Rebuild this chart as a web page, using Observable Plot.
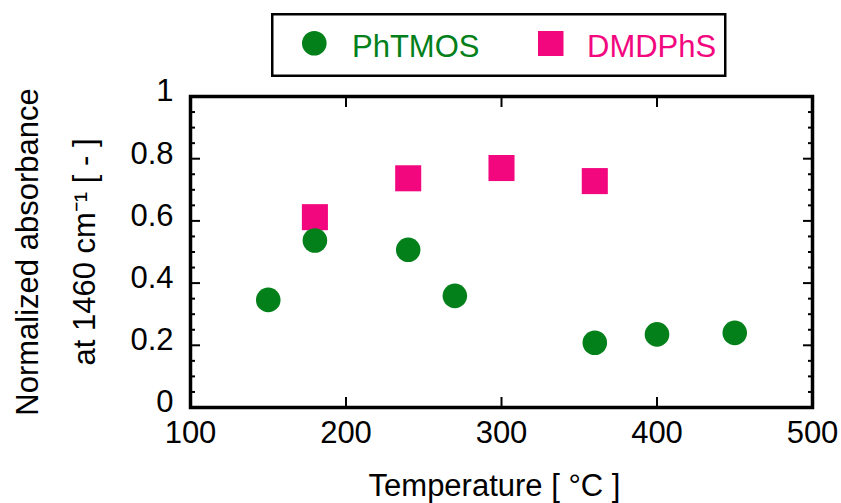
<!DOCTYPE html>
<html><head><meta charset="utf-8">
<script src="https://cdn.jsdelivr.net/npm/d3@7"></script>
<script src="https://cdn.jsdelivr.net/npm/@observablehq/plot@0.6"></script>
<style>
body{margin:0;background:#fff;font-family:"Liberation Sans",Arial,sans-serif}
#wrap{position:relative;width:841px;height:503px}
#wrap svg{display:block}
#legend{position:absolute;left:0;top:0}
</style>
</head><body><div id="wrap"></div>
<script>
const phX = [150, 180, 240, 270, 360, 400, 450];
const phY = [0.346, 0.537, 0.507, 0.359, 0.208, 0.235, 0.240];
const dmX = [180, 240, 300, 360];
const dmY = [0.612, 0.737, 0.770, 0.728];
const xTicks = [100, 200, 300, 400, 500];
const yTicks = [0, 0.2, 0.4, 0.6, 0.8, 1];
const yTickLabels = ["0", "0.2", "0.4", "0.6", "0.8", "1"];
const yMinor = [0.05, 0.1, 0.15, 0.25, 0.3, 0.35, 0.45, 0.5, 0.55, 0.65, 0.7, 0.75, 0.85, 0.9, 0.95];
const seriesNames = ["PhTMOS", "DMDPhS"];
const seriesColors = ["#03801a", "#f2077f"];
const xTitle = "Temperature [ °C ]";
const yTitle1 = "Normalized absorbance";
const yTitle2 = "at 1460 cm\u207B\u00B9 [ - ]";

const FONT = '"Liberation Sans", Arial, sans-serif';
const FS = 31;
const ph = phX.map((x, i) => ({x, y: phY[i]}));
const dm = dmX.map((x, i) => ({x, y: dmY[i]}));

const tickOpts = {tickSize: -10, strokeWidth: 2, fill: "none", label: null};
const minorOpts = {tickSize: -5, strokeWidth: 2, fill: "none", label: null};

const chart = Plot.plot({
  width: 841, height: 503,
  marginLeft: 190, marginRight: 29, marginTop: 96, marginBottom: 96,
  style: {fontFamily: FONT, fontSize: FS + "px", color: "#000", background: "#fff"},
  x: {domain: [100, 500]},
  y: {domain: [0, 1]},
  marks: [
    Plot.axisX(xTicks, {anchor: "bottom", tickSize: 0, tickPadding: 13, fontSize: FS, label: null, tickFormat: d => String(d)}),
    Plot.axisX(xTicks, {anchor: "bottom", ...tickOpts}),
    Plot.axisX(xTicks, {anchor: "top", ...tickOpts}),
    Plot.axisY(yTicks, {anchor: "left", tickSize: 0, tickPadding: 17, dy: -5, fontSize: FS, label: null, tickFormat: d => yTickLabels[yTicks.indexOf(d)]}),
    Plot.axisY(yTicks, {anchor: "left", ...tickOpts}),
    Plot.axisY(yTicks, {anchor: "right", ...tickOpts}),
    Plot.axisY(yMinor, {anchor: "left", ...minorOpts}),
    Plot.axisY(yMinor, {anchor: "right", ...minorOpts}),
    Plot.frame({strokeWidth: 3.5, stroke: "#000"}),
    Plot.dot(dm, {x: "x", y: "y", r: 14.7, symbol: "square", fill: seriesColors[1]}),
    Plot.dot(ph, {x: "x", y: "y", r: 12.3, symbol: "circle", fill: seriesColors[0]}),
    Plot.text([xTitle], {text: d => d, frameAnchor: "bottom", lineAnchor: "bottom", dy: 88, dx: -7, fontSize: FS}),
    Plot.text([yTitle1], {text: d => d, frameAnchor: "left", textAnchor: "middle", rotate: -90, lineAnchor: "bottom", dx: -153, fontSize: FS}),
    Plot.text([yTitle2], {text: d => d, frameAnchor: "left", textAnchor: "middle", rotate: -90, lineAnchor: "bottom", dx: -96, fontSize: FS})
  ]
});
const wrap = document.getElementById("wrap");
wrap.appendChild(chart);

// legend
const lg = d3.select(wrap).append("svg").attr("id", "legend").attr("width", 841).attr("height", 90);
lg.append("rect").attr("x", 272.25).attr("y", 14.25).attr("width", 453).attr("height", 61.5)
  .attr("fill", "#fff").attr("stroke", "#000").attr("stroke-width", 2.5);
lg.append("circle").attr("cx", 314.3).attr("cy", 43.3).attr("r", 12.3).attr("fill", seriesColors[0]);
lg.append("text").attr("x", 352).attr("y", 56.5).attr("font-family", FONT).attr("font-size", FS)
  .attr("fill", seriesColors[0]).text(seriesNames[0]);
lg.append("rect").attr("x", 538).attr("y", 31).attr("width", 25.5).attr("height", 25).attr("fill", seriesColors[1]);
lg.append("text").attr("x", 587).attr("y", 56.5).attr("font-family", FONT).attr("font-size", FS)
  .attr("fill", seriesColors[1]).text(seriesNames[1]);
</script>
</body></html>
